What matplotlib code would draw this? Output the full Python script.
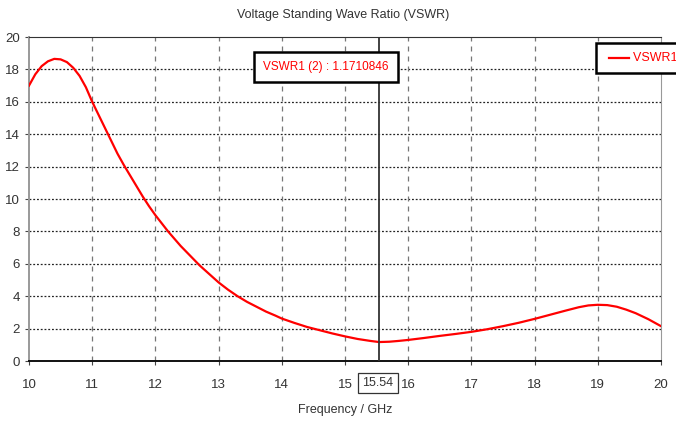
import matplotlib
matplotlib.use("Agg")
import matplotlib.pyplot as plt

# VSWR curve
freq_ghz = [10.0, 10.1, 10.2, 10.3, 10.4, 10.5, 10.6, 10.7, 10.8, 10.9, 11.0,
            11.1, 11.2, 11.3, 11.4, 11.5, 11.6, 11.7, 11.8, 11.9, 12.0,
            12.1, 12.2, 12.3, 12.4, 12.5, 12.6, 12.7, 12.8, 12.9, 13.0,
            13.15, 13.3, 13.45, 13.6, 13.75, 13.9, 14.0, 14.2, 14.4, 14.6,
            14.8, 15.0, 15.2, 15.4, 15.54, 15.7, 15.85, 16.0, 16.25, 16.5,
            16.75, 17.0, 17.25, 17.5, 17.75, 18.0, 18.25, 18.5, 18.7, 18.85,
            19.0, 19.15, 19.3, 19.45, 19.6, 19.8, 20.0]
vswr = [17.0, 17.7, 18.2, 18.5, 18.65, 18.62, 18.45, 18.1, 17.6, 16.9, 16.0,
        15.2, 14.4, 13.6, 12.8, 12.1, 11.45, 10.8, 10.15, 9.55, 9.0,
        8.5, 8.0, 7.55, 7.1, 6.7, 6.3, 5.9, 5.55, 5.2, 4.85,
        4.4, 4.0, 3.65, 3.35, 3.05, 2.8, 2.62, 2.35, 2.1, 1.9,
        1.7, 1.52, 1.36, 1.24, 1.17, 1.19, 1.24, 1.3, 1.42, 1.55,
        1.67, 1.8, 1.96, 2.15, 2.36, 2.6, 2.86, 3.12, 3.32, 3.43,
        3.47, 3.45, 3.35, 3.17, 2.95, 2.58, 2.15]

x_ticks = [10, 11, 12, 13, 14, 15, 16, 17, 18, 19, 20]
y_ticks = [0, 2, 4, 6, 8, 10, 12, 14, 16, 18, 20]
marker_freq = 15.54
marker_value = 1.1710846
series_name = "VSWR1 (2)"

plt.rcParams["font.family"] = ["Liberation Sans", "DejaVu Sans"]
plt.rcParams["font.size"] = 9

fig = plt.figure(figsize=(6.76, 4.24), dpi=100)
ax = fig.add_axes([29 / 676, 63 / 424, 632 / 676, 324 / 424])

ax.plot(freq_ghz, vswr, color="#ff0000", lw=1.6, zorder=3)

ax.set_xlim(10, 20)
ax.set_ylim(0, 20)
ax.set_xticks(x_ticks)
ax.set_yticks(y_ticks)
ax.tick_params(axis="both", length=3, width=0.8, color="#444444", labelsize=9.5, labelcolor="#333333")
ax.tick_params(axis="x", pad=10)

# grid: horizontal dotted black, vertical dashed gray
for y in y_ticks[1:-1]:
    ax.axhline(y, color="#222222", lw=0.9, ls=(0, (1.5, 1.5)), zorder=1)
for x in x_ticks[1:-1]:
    ax.axvline(x, color="#777777", lw=0.9, ls=(0, (4, 4)), zorder=1)

ax.spines["top"].set_color("#333333")
ax.spines["bottom"].set_color("#111111")
ax.spines["bottom"].set_linewidth(1.4)
ax.spines["left"].set_color("#999999")
ax.spines["left"].set_linewidth(1.4)
ax.spines["right"].set_color("#999999")

# marker cursor
ax.axvline(marker_freq, color="#333333", lw=1.3, zorder=4)
fig.text(326 / 676, 1 - 67 / 424, f"{series_name} : {marker_value:.7f}", color="#ff0000",
         fontsize=8.5, ha="center", va="center", zorder=5,
         bbox=dict(boxstyle="square,pad=0.75", fc="white", ec="black", lw=1.8))
fig.text(378 / 676, 1 - 383 / 424, f"{marker_freq:.2f}", fontsize=9,
         color="#333333", ha="center", va="center",
         bbox=dict(boxstyle="square,pad=0.35", fc="white", ec="#333333", lw=0.9))

# legend box, cut off at the right edge
fig.text(605 / 676, 1 - 58 / 424, "        " + series_name, color="#ff0000", fontsize=9,
         ha="left", va="center",
         bbox=dict(boxstyle="square,pad=0.75", fc="white", ec="black", lw=1.8))
fig.add_artist(plt.Line2D([609 / 676, 629 / 676], [1 - 58 / 424, 1 - 58 / 424],
                          color="#ff0000", lw=1.6, transform=fig.transFigure, zorder=10))

fig.text(343 / 676, 1 - 15 / 424, "Voltage Standing Wave Ratio (VSWR)", ha="center", va="center",
         fontsize=9, color="#333333")
fig.text(345 / 676, 1 - 410 / 424, "Frequency / GHz", ha="center", va="center",
         fontsize=9, color="#333333")

fig.savefig("out.png", dpi=100, facecolor="white")
